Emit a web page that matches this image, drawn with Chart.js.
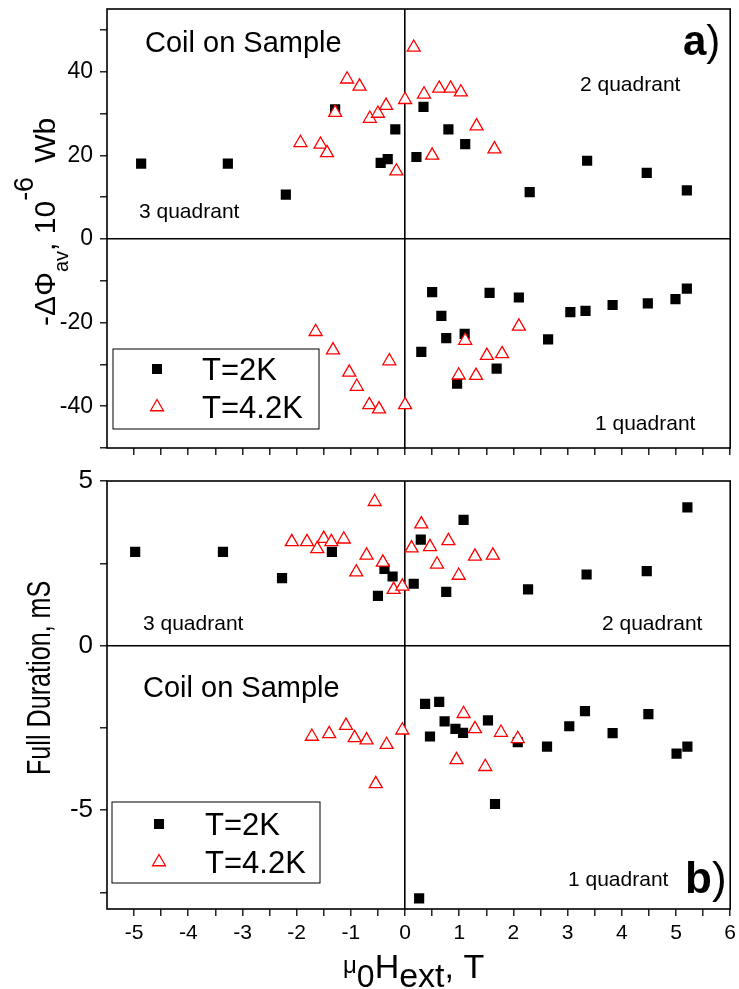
<!DOCTYPE html>
<html>
<head>
<meta charset="utf-8">
<script src="https://cdn.jsdelivr.net/npm/chart.js@4.4.1/dist/chart.umd.min.js"></script>
<style>
  html, body { margin: 0; padding: 0; background: #fff; }
  #wrap { position: relative; width: 739px; height: 989px; }
  canvas { position: absolute; left: 0; }
  #topChart { top: 0; }
  #botChart { top: 470px; }
</style>
</head>
<body>
<div id="wrap">
  <canvas id="topChart" width="739" height="470" style="width:739px;height:470px"></canvas>
  <canvas id="botChart" width="739" height="519" style="width:739px;height:519px"></canvas>
</div>
<script>
// ---- data ----
// panel a) : -dPhi_av, 10^-6 Wb
var fluxField2K = [-4.87, -3.27, -2.20, -1.29, -0.45, -0.32, -0.18, 0.21, 0.34, 0.80, 1.11, 2.30, 3.36, 4.46, 5.20,
                   0.30, 0.50, 0.67, 0.76, 0.96, 1.10, 1.56, 1.69, 2.10, 2.64, 3.05, 3.33, 3.83, 4.48, 4.99, 5.20];
var fluxValue2K = [18.0, 18.0, 10.6, 31.0, 18.2, 19.1, 26.2, 19.6, 31.6, 26.2, 22.7, 11.2, 18.7, 15.8, 11.6,
                   -27.0, -12.7, -18.4, -23.7, -34.6, -22.7, -12.9, -31.0, -14.0, -24.0, -17.5, -17.2, -15.8, -15.4, -14.4, -11.9];
var fluxField42K = [-1.93, -1.56, -1.44, -1.29, -1.07, -0.84, -0.65, -0.50, -0.35, -0.16, 0.00, 0.16, 0.35, 0.50, 0.63, 0.84, 1.03, 1.32, 1.65,
                    -1.65, -1.33, -1.03, -0.89, -0.66, -0.48, -0.29, 0.00, 0.99, 1.11, 1.31, 1.51, 1.79, 2.10];
var fluxValue42K = [23.0, 22.6, 20.6, 30.2, 38.2, 36.5, 28.8, 30.0, 31.9, 16.2, 33.3, 45.8, 34.6, 20.0, 36.0, 36.0, 35.1, 27.0, 21.5,
                    -22.2, -26.6, -31.9, -35.3, -39.7, -40.7, -29.2, -39.7, -32.6, -24.3, -32.7, -27.9, -27.5, -20.9];

// panel b) : full duration, mS
var durField2K = [-4.98, -3.36, -2.27, -1.35, -0.50, -0.38, -0.23, 0.16, 0.29, 0.76, 1.08, 2.27, 3.35, 4.46, 5.21,
                  0.26, 0.37, 0.46, 0.63, 0.73, 0.93, 1.07, 1.53, 1.66, 2.08, 2.62, 3.03, 3.32, 3.83, 4.49, 5.01, 5.21];
var durValue2K = [2.85, 2.85, 2.05, 2.85, 1.51, 2.33, 2.10, 1.88, 3.22, 1.63, 3.82, 1.71, 2.16, 2.26, 4.20,
                  -7.68, -1.77, -2.76, -1.71, -2.30, -2.53, -2.65, -2.27, -4.81, -2.93, -3.07, -2.45, -1.99, -2.66, -2.08, -3.28, -3.07];
var durField42K = [-2.09, -1.81, -1.62, -1.50, -1.36, -1.13, -0.90, -0.71, -0.56, -0.41, -0.21, -0.05, 0.12, 0.30, 0.46, 0.59, 0.80, 0.99, 1.29, 1.62,
                   -1.72, -1.40, -1.09, -0.93, -0.71, -0.54, -0.34, -0.05, 0.95, 1.08, 1.29, 1.48, 1.77, 2.08];
var durValue42K = [3.15, 3.15, 2.94, 3.25, 3.15, 3.23, 2.23, 2.74, 4.37, 2.53, 1.70, 1.80, 2.96, 3.69, 3.00, 2.47, 3.18, 2.13, 2.71, 2.74,
                   -2.76, -2.68, -2.43, -2.80, -2.87, -4.20, -3.01, -2.57, -3.47, -2.07, -2.53, -3.68, -2.64, -2.83];

var seriesLabels = ['T=2K', 'T=4.2K'];

// ticks
var xTicks = [-5, -4.5, -4, -3.5, -3, -2.5, -2, -1.5, -1, -0.5, 0, 0.5, 1, 1.5, 2, 2.5, 3, 3.5, 4, 4.5, 5, 5.5, 6];
var xTickLabels = ['-5', '-4', '-3', '-2', '-1', '0', '1', '2', '3', '4', '5', '6'];
var fluxTicks = [-50, -40, -30, -20, -10, 0, 10, 20, 30, 40, 50];
var fluxTickLabels = ['-40', '-20', '0', '20', '40'];
var durTicks = [-7.5, -5, -2.5, 0, 2.5, 5];
var durTickLabels = ['-5', '0', '5'];

var FONT = "'Liberation Sans', Arial, Helvetica, sans-serif";
Chart.defaults.font.family = FONT;
Chart.defaults.color = '#000';

function pts(xs, ys) {
  return xs.map(function (x, i) { return { x: x, y: ys[i] }; });
}

// draws a row of text pieces (sub/superscripts), optionally rotated
function drawRuns(ctx, runs, x, y, angle, sx) {
  ctx.save();
  ctx.translate(x, y);
  ctx.rotate(angle || 0);
  ctx.scale(sx || 1, 1);
  ctx.textBaseline = 'alphabetic';
  ctx.textAlign = 'left';
  ctx.fillStyle = '#000';
  var cx = 0;
  runs.forEach(function (r) {
    ctx.font = (r.bold ? 'bold ' : '') + r.size + 'px ' + FONT;
    cx += r.pre || 0;
    ctx.fillText(r.t, cx, r.dy || 0);
    cx += ctx.measureText(r.t).width;
  });
  ctx.restore();
}

function drawMarker(ctx, style, x, y) {
  ctx.save();
  if (style === 'rect') {
    ctx.fillStyle = '#000';
    ctx.fillRect(x - 5, y - 5, 10, 10);
  } else {
    var r = 7.5;
    ctx.beginPath();
    ctx.moveTo(x, y - r);
    ctx.lineTo(x + r * 0.866, y + r * 0.5);
    ctx.lineTo(x - r * 0.866, y + r * 0.5);
    ctx.closePath();
    ctx.fillStyle = '#fff';
    ctx.fill();
    ctx.strokeStyle = '#ff0000';
    ctx.lineWidth = 1.3;
    ctx.stroke();
  }
  ctx.restore();
}

// frame, free texts and the boxed legend
var panelDeco = {
  id: 'panelDeco',
  afterDraw: function (chart, args, opts) {
    var ctx = chart.ctx, a = chart.chartArea;
    ctx.save();
    ctx.strokeStyle = '#000';
    ctx.lineWidth = 1.6;
    ctx.strokeRect(a.left, a.top, a.right - a.left, a.bottom - a.top);
    ctx.restore();

    (opts.texts || []).forEach(function (t) {
      drawRuns(ctx, t.runs, t.x, t.y, t.angle, t.sx);
    });

    var lg = opts.legend;
    if (lg) {
      ctx.save();
      ctx.strokeStyle = '#000';
      ctx.lineWidth = 1;
      ctx.strokeRect(lg.box[0], lg.box[1], lg.box[2], lg.box[3]);
      ctx.restore();
      chart.data.datasets.slice().sort(function (p, q) { return p.legendPos - q.legendPos; })
        .forEach(function (ds, i) {
          drawMarker(ctx, ds.pointStyle, lg.mx, lg.my[i]);
          drawRuns(ctx, [{ t: ds.label, size: lg.size }], lg.tx, lg.ty[i], 0, lg.sx);
        });
    }
  }
};

function gridOpts() {
  return {
    drawOnChartArea: true,
    color: function (c) { return c.tick && c.tick.value === 0 ? '#000' : 'rgba(0,0,0,0)'; },
    lineWidth: 1.6,
    tickColor: '#000',
    tickWidth: 1.3,
    tickLength: 7
  };
}

function datasets(x2, y2, x4, y4) {
  return [
    {
      label: seriesLabels[1],
      data: pts(x4, y4),
      pointStyle: 'triangle',
      pointRadius: 7.5,
      borderColor: '#ff0000',
      backgroundColor: '#ffffff',
      borderWidth: 1.3,
      order: 0,
      legendPos: 1
    },
    {
      label: seriesLabels[0],
      data: pts(x2, y2),
      pointStyle: 'rect',
      pointRadius: 7.2,
      borderColor: '#000',
      backgroundColor: '#000',
      borderWidth: 0,
      order: 1,
      legendPos: 0
    }
  ];
}

function xScale(showLabels, height) {
  return {
    type: 'linear',
    min: -5.5,
    max: 6,
    afterBuildTicks: function (s) { s.ticks = xTicks.map(function (v) { return { value: v }; }); },
    afterFit: function (s) {
      s.height = height;
      s.paddingLeft = 0;
      s.paddingRight = 0;
    },
    grid: gridOpts(),
    border: { display: false },
    ticks: {
      autoSkip: false,
      maxRotation: 0,
      padding: 5,
      font: { size: 21 },
      callback: function (v) {
        if (!showLabels) return '';
        var s = String(v);
        return xTickLabels.indexOf(s) >= 0 ? s : '';
      }
    }
  };
}

function yScale(min, max, tickVals, tickLabels, fontSize) {
  return {
    type: 'linear',
    min: min,
    max: max,
    afterBuildTicks: function (s) { s.ticks = tickVals.map(function (v) { return { value: v }; }); },
    afterFit: function (s) {
      s.width = 107;
      s.paddingTop = 0;
      s.paddingBottom = 0;
    },
    grid: gridOpts(),
    border: { display: false },
    ticks: {
      autoSkip: false,
      padding: 7,
      font: { size: fontSize },
      callback: function (v) {
        var s = String(v);
        return tickLabels.indexOf(s) >= 0 ? s : '';
      }
    }
  };
}

// ---- panel a) ----
new Chart(document.getElementById('topChart'), {
  type: 'scatter',
  data: { datasets: datasets(fluxField2K, fluxValue2K, fluxField42K, fluxValue42K) },
  options: {
    responsive: false,
    animation: false,
    events: [],
    layout: { padding: { top: 9, right: 5, left: 0, bottom: 0 } },
    scales: {
      x: xScale(false, 22),
      y: yScale(-50, 55, fluxTicks, fluxTickLabels, 23)
    },
    plugins: {
      legend: { display: false },
      tooltip: { enabled: false },
      panelDeco: {
        texts: [
          { x: 55, y: 326, angle: -Math.PI / 2, runs: [
            { t: '-\u0394\u03A6', size: 30 },
            { t: 'av', size: 20, dy: 13 },
            { t: ', 10', size: 30 },
            { t: '-6', size: 27, dy: -22 },
            { t: 'Wb', size: 30, pre: 14 }
          ] },
          { x: 145, y: 52, runs: [{ t: 'Coil on Sample', size: 29 }] },
          { x: 683, y: 55, runs: [{ t: 'a', size: 42, bold: true }, { t: ')', size: 42 }] },
          { x: 580, y: 91, runs: [{ t: '2 quadrant', size: 21 }] },
          { x: 139, y: 218, runs: [{ t: '3 quadrant', size: 21 }] },
          { x: 595, y: 430, runs: [{ t: '1 quadrant', size: 21 }] }
        ],
        legend: { box: [113, 349, 206, 80], mx: 157, my: [369, 407], tx: 202, ty: [380, 418], size: 31, sx: 1 }
      }
    }
  },
  plugins: [panelDeco]
});

// ---- panel b) ----
new Chart(document.getElementById('botChart'), {
  type: 'scatter',
  data: { datasets: datasets(durField2K, durValue2K, durField42K, durValue42K) },
  options: {
    responsive: false,
    animation: false,
    events: [],
    layout: { padding: { top: 11, right: 5, left: 0, bottom: 0 } },
    scales: {
      x: xScale(true, 80),
      y: yScale(-8, 5, durTicks, durTickLabels, 26)
    },
    plugins: {
      legend: { display: false },
      tooltip: { enabled: false },
      panelDeco: {
        texts: [
          { x: 50, y: 305, angle: -Math.PI / 2, sx: 0.74, runs: [{ t: 'Full Duration, mS', size: 34 }] },
          { x: 343, y: 508, runs: [
            { t: '\u03BC', size: 24, dy: -5 },
            { t: '0', size: 32, dy: 9 },
            { t: 'H', size: 34 },
            { t: 'ext', size: 34, dy: 9 },
            { t: ', T', size: 34 }
          ] },
          { x: 143, y: 160, runs: [{ t: '3 quadrant', size: 21 }] },
          { x: 602, y: 160, runs: [{ t: '2 quadrant', size: 21 }] },
          { x: 143, y: 227, runs: [{ t: 'Coil on Sample', size: 29 }] },
          { x: 568, y: 416, runs: [{ t: '1 quadrant', size: 21 }] },
          { x: 685, y: 423, runs: [{ t: 'b', size: 44, bold: true }, { t: ')', size: 44 }] }
        ],
        legend: { box: [112, 332, 208, 81], mx: 159, my: [354, 392], tx: 205, ty: [365, 403], size: 31, sx: 1 }
      }
    }
  },
  plugins: [panelDeco]
});
</script>
</body>
</html>
